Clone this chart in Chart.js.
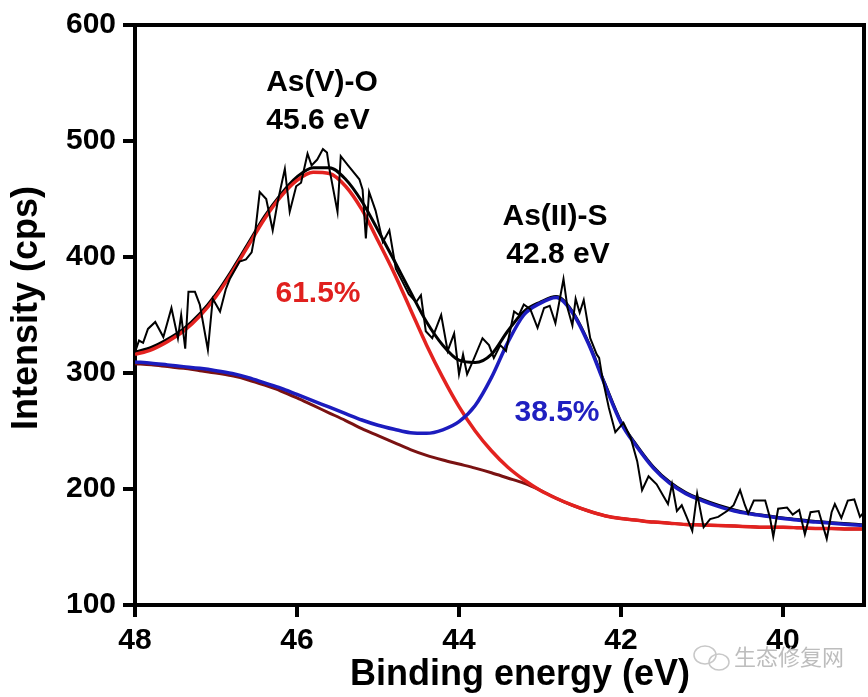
<!DOCTYPE html>
<html>
<head>
<meta charset="utf-8">
<script src="https://cdn.jsdelivr.net/npm/chart.js@4.4.1/dist/chart.umd.min.js"></script>
<style>
html, body { margin: 0; padding: 0; background: #fff; }
#wrap { width: 868px; height: 697px; }
</style>
</head>
<body>
<div id="wrap"><canvas id="xps" width="868" height="697"></canvas></div>
<script>
// As 3d spectrum
var rawEnergy = [48.00, 47.95, 47.90, 47.84, 47.75, 47.65, 47.55, 47.47, 47.43, 47.38, 47.34, 47.26, 47.20, 47.10, 47.04,
  46.95, 46.88, 46.83, 46.71, 46.63, 46.56, 46.52, 46.46, 46.38, 46.30, 46.24, 46.15, 46.09, 46.01, 45.95,
  45.87, 45.82, 45.75, 45.68, 45.63, 45.60, 45.50, 45.46, 45.37, 45.23, 45.19, 45.15, 45.11, 45.03, 44.94,
  44.86, 44.78, 44.70, 44.62, 44.53, 44.47, 44.41, 44.33, 44.22, 44.14, 44.06, 44.00, 43.95, 43.90, 43.83,
  43.71, 43.63, 43.57, 43.49, 43.42, 43.32, 43.26, 43.20, 43.12, 43.03, 42.95, 42.88, 42.81, 42.71, 42.66,
  42.60, 42.56, 42.51, 42.46, 42.38, 42.30, 42.27, 42.23, 42.15, 42.07, 41.97, 41.88, 41.80, 41.74, 41.66,
  41.56, 41.47, 41.42, 41.37, 41.31, 41.25, 41.19, 41.12, 41.06, 40.98, 40.90, 40.80, 40.69, 40.61, 40.53,
  40.47, 40.43, 40.36, 40.22, 40.16, 40.12, 40.06, 39.95, 39.88, 39.80, 39.73, 39.66, 39.56, 39.46, 39.40,
  39.36, 39.28, 39.20, 39.12, 39.05, 39.00];
var rawCounts = [318, 328, 326, 338, 344, 331, 356, 330, 350, 321, 370, 370, 359, 320, 364,
  353, 372, 381, 396, 398, 404, 419, 456, 450, 423, 447, 476, 439, 461, 464,
  489, 479, 484, 493, 490, 476, 439, 487, 479, 467, 458, 416, 456, 440, 413,
  423, 390, 379, 368, 361, 367, 336, 330, 350, 319, 334, 299, 316, 299, 310,
  330, 324, 313, 324, 319, 353, 350, 359, 355, 339, 356, 358, 343, 381, 356,
  341, 364, 352, 363, 330, 316, 313, 296, 270, 249, 257, 244, 224, 199, 211,
  204, 193, 187, 204, 181, 186, 176, 164, 196, 167, 174, 176, 181, 186, 199,
  186, 179, 190, 190, 175, 159, 183, 184, 178, 182, 161, 180, 181, 157, 180,
  187, 175, 190, 191, 176, 180];

var fitEnergy = [48.0, 47.8, 47.6, 47.4, 47.2, 47.0, 46.8, 46.6, 46.4, 46.2, 46.0, 45.8, 45.6, 45.4, 45.2, 45.0,
  44.8, 44.6, 44.4, 44.2, 44.0, 43.8, 43.6, 43.4, 43.2, 43.0, 42.8, 42.6, 42.4, 42.2, 42.0,
  41.8, 41.6, 41.4, 41.2, 41.0, 40.8, 40.6, 40.4, 40.2, 40.0, 39.8, 39.6, 39.4, 39.2, 39.0];
var envelopeFit = [318, 322, 329, 338, 351, 368, 389, 412, 435, 454, 469, 477, 477, 467, 448, 423,
  397, 370, 344, 324, 311, 309, 316, 336, 353, 361, 366, 353, 326, 291, 258,
  237, 219, 206, 197, 191, 186, 182, 179, 177, 175, 173.5, 172, 171, 170, 169];
var as5Peak = [316, 320, 327, 336, 349, 366, 387, 410, 433, 452, 466, 473, 472, 461, 441, 414,
  386, 355, 324, 296, 271, 250, 233, 219, 208, 199, 192, 186, 181, 177, 174.5,
  173, 171.5, 170.5, 169.5, 169, 168.5, 168, 167.5, 167, 167, 166.5, 166, 166, 165.5, 165.5];
var as2Peak = [309.5, 308.5, 307, 305.5, 304, 302, 299.5, 296, 291.5, 287, 281.5, 276, 270.5, 265, 259.5, 255,
  251.5, 248.5, 248, 251, 258, 272, 296, 326, 350, 360, 365, 352, 325, 290, 257,
  236, 218, 205, 196, 190, 185, 181, 178.5, 176.5, 174.5, 173, 171.5, 170.5, 169.5, 168.5];
var background = [308, 307, 305.5, 304, 302, 300, 297.5, 294, 289.5, 284.5, 278.5, 272, 265.5, 259, 252, 246,
  240, 234, 229, 225, 221.5, 218, 214, 209.5, 205, 199, 192, 186, 181, 177, 174.5,
  173, 171.5, 170.5, 169.5, 169, 168.5, 168, 167.5, 167, 167, 166.5, 166, 166, 165.5, 165.5];

var xTicks = [48, 46, 44, 42, 40];
var yTicks = [100, 200, 300, 400, 500, 600];

function pts(xs, ys) {
  return xs.map(function(x, i) { return { x: x, y: ys[i] }; });
}

var FONT = '"Liberation Sans", Arial, sans-serif';

var decor = {
  id: 'decor',
  afterDraw: function(chart) {
    var ctx = chart.ctx, a = chart.chartArea;
    ctx.save();
    // top and right frame
    ctx.strokeStyle = '#000';
    ctx.lineWidth = 4;
    ctx.beginPath();
    ctx.moveTo(a.left - 2, a.top);
    ctx.lineTo(a.right, a.top);
    ctx.lineTo(a.right, a.bottom);
    ctx.stroke();

    ctx.textAlign = 'center';
    ctx.textBaseline = 'middle';
    ctx.font = 'bold 30px ' + FONT;
    ctx.fillStyle = '#000';
    ctx.fillText('As(V)-O', 322, 83);
    ctx.fillText('45.6 eV', 318, 121);
    ctx.fillText('As(II)-S', 555, 217);
    ctx.fillText('42.8 eV', 558, 255);
    ctx.fillStyle = '#e0201e';
    ctx.fillText('61.5%', 318, 294);
    ctx.fillStyle = '#2020c0';
    ctx.fillText('38.5%', 557, 413);

    // axis titles
    ctx.fillStyle = '#000';
    ctx.font = 'bold 36px ' + FONT;
    ctx.fillText('Binding energy (eV)', 520, 675);
    ctx.translate(27, 308);
    ctx.rotate(-Math.PI / 2);
    ctx.fillText('Intensity (cps)', 0, 0);
    ctx.restore();

    // watermark
    ctx.save();
    ctx.strokeStyle = '#c8c8c8';
    ctx.lineWidth = 1.5;
    ctx.beginPath();
    ctx.ellipse(705, 655, 11, 9, 0, 0, Math.PI * 2);
    ctx.stroke();
    ctx.beginPath();
    ctx.ellipse(719, 662, 10, 8, 0, 0, Math.PI * 2);
    ctx.stroke();
    ctx.fillStyle = '#bdbdbd';
    ctx.font = '22px "Noto Sans CJK SC", sans-serif';
    ctx.textAlign = 'left';
    ctx.textBaseline = 'middle';
    ctx.fillText('生态修复网', 734, 657);
    ctx.restore();
  }
};

var ctx = document.getElementById('xps');
var xpsChart = new Chart(ctx, {
  type: 'line',
  data: {
    datasets: [
      { label: 'raw', data: pts(rawEnergy, rawCounts), borderColor: '#000', borderWidth: 2, tension: 0 },
      { label: 'As(II)-S', data: pts(fitEnergy, as2Peak), borderColor: '#1c1cbe', borderWidth: 3.5, cubicInterpolationMode: 'monotone' },
      { label: 'As(V)-O', data: pts(fitEnergy, as5Peak), borderColor: '#e3221f', borderWidth: 3.5, cubicInterpolationMode: 'monotone' },
      { label: 'envelope', data: pts(fitEnergy, envelopeFit), borderColor: '#000', borderWidth: 3, cubicInterpolationMode: 'monotone' },
      { label: 'background', data: pts(fitEnergy, background), borderColor: '#7a1212', borderWidth: 3, cubicInterpolationMode: 'monotone' }
    ]
  },
  options: {
    responsive: false,
    animation: false,
    devicePixelRatio: 1,
    layout: { padding: { top: 22, right: 4, left: 0, bottom: 0 } },
    elements: { point: { radius: 0 }, line: { fill: false } },
    plugins: { legend: { display: false }, tooltip: { enabled: false } },
    scales: {
      x: {
        type: 'linear',
        reverse: true,
        min: 39,
        max: 48,
        afterBuildTicks: function(s) { s.ticks = xTicks.map(function(v) { return { value: v }; }); },
        afterFit: function(s) { s.height = 92; },
        grid: { drawOnChartArea: false, drawTicks: true, tickLength: 12, tickWidth: 4, tickColor: '#000', color: '#000', lineWidth: 4 },
        border: { display: true, color: '#000', width: 4 },
        ticks: { color: '#000', padding: 6, maxRotation: 0, font: { family: FONT, size: 30, weight: 'bold' } }
      },
      y: {
        min: 100,
        max: 600,
        afterBuildTicks: function(s) { s.ticks = yTicks.map(function(v) { return { value: v }; }); },
        afterFit: function(s) { s.width = 135; },
        grid: { drawOnChartArea: false, drawTicks: true, tickLength: 12, tickWidth: 4, tickColor: '#000', color: '#000', lineWidth: 4 },
        border: { display: true, color: '#000', width: 4 },
        ticks: { color: '#000', padding: 7, font: { family: FONT, size: 30, weight: 'bold' } }
      }
    }
  },
  plugins: [decor]
});
</script>
</body>
</html>
